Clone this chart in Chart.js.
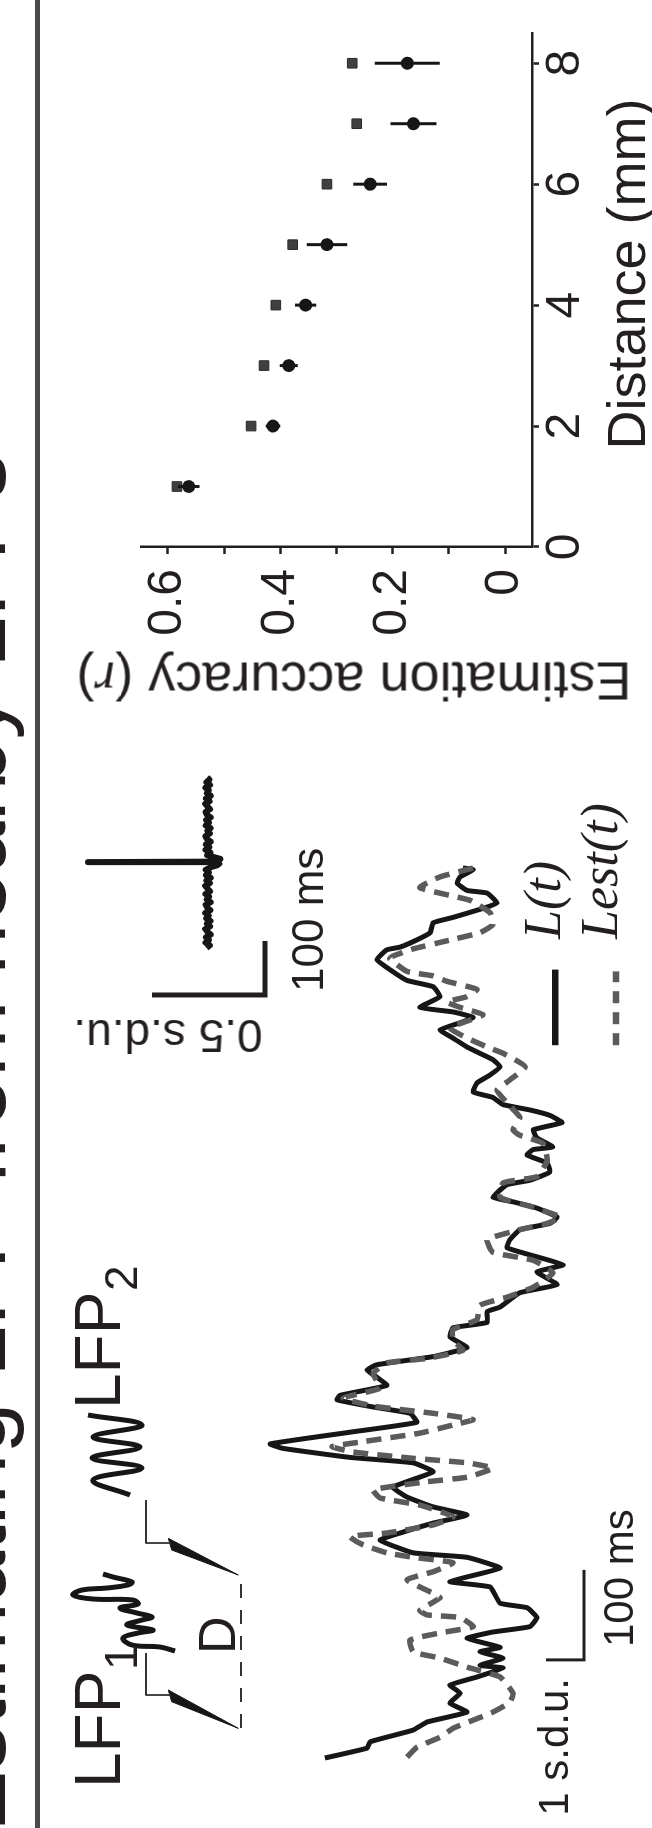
<!DOCTYPE html>
<html><head><meta charset="utf-8">
<script src="https://cdn.jsdelivr.net/npm/chart.js@4.4.1/dist/chart.umd.min.js"></script>
<style>
html,body{margin:0;padding:0;background:#fff;}
body{width:652px;height:1828px;overflow:hidden;position:relative;}
#fig{position:absolute;left:0;top:0;width:1828px;height:652px;transform-origin:0 0;transform:translateY(1828px) rotate(-90deg);overflow:hidden;background:#fff;color:#231f20;font-family:"Liberation Sans",Arial,Helvetica,sans-serif;}
#fig canvas{position:absolute;}
.t{position:absolute;white-space:nowrap;line-height:1;}
#sep{position:absolute;left:0;top:35px;width:1828px;height:5px;background:#4a4a4a;}
</style></head>
<body>
<div id="fig">
<div id="sep"></div>
<canvas id="cTrace" width="1130" height="652" style="left:0;top:0"></canvas>
<canvas id="cSchem" width="600" height="260" style="left:0;top:40px"></canvas>
<canvas id="cInset" width="300" height="260" style="left:780px;top:60px"></canvas>
<canvas id="cAcc" width="728" height="600" style="left:1100px;top:100px"></canvas>
</div>
<script>
// ================= DATA =================
// Recorded LFP L(t): time (ms) and amplitude (s.d.u.)
const lTime = [0,11,18,31,40,51,61,72,81,90,100,103,111,118,123,133,140,146,156,167,172,190,196,211,223,228,242,250,261,270,279,290,301,318,328,334,344,349,362,373,383,390,398,403,414,423,431,437,446,456,468,478,484,496,501,517,526,540,548,559,567,576,587,594,601,611,618,623,637,642,651,661,670,676,679,689,698,706,714,720,726,734,740,750,759,768,776,783,790,800,809,818,823,829,834,846,857,864,876,887,898,901,909,917,928,934,944,950,961,964,972,979,987,989];
const lAmp = [7.24,6.13,6.05,4.92,4.55,3.50,3.95,3.68,3.95,3.24,2.55,3.16,2.55,3.16,2.63,3.50,2.82,1.84,1.66,1.92,2.63,2.89,3.95,2.63,3.50,4.92,5.79,5.26,4.39,3.50,4.39,5.08,5.45,4.39,4.92,6.58,8.34,8.68,6.58,4.82,5.00,5.97,6.92,6.84,5.61,5.87,6.13,5.87,4.39,3.50,3.95,3.87,2.97,2.97,2.63,2.11,1.13,1.66,0.97,1.84,2.45,2.37,2.11,1.32,1.13,1.66,2.29,2.82,2.45,1.84,1.32,1.39,1.92,1.76,1.24,1.66,1.76,1.00,1.32,1.84,2.55,2.82,3.34,3.24,2.89,2.63,2.82,3.16,3.50,3.87,4.21,3.61,3.34,3.87,4.74,4.21,4.39,5.08,5.53,5.87,5.61,5.26,4.82,4.47,4.39,3.87,3.08,2.71,2.97,3.50,3.76,3.68,3.34,3.61];
// Estimated LFP Lest(t)
const estTime = [1,12,23,33,42,51,62,72,90,101,111,118,131,139,146,156,159,164,178,183,198,207,217,223,228,237,246,250,259,268,281,289,298,307,312,322,328,333,340,346,351,361,370,376,383,391,400,411,427,439,444,453,464,476,487,503,512,523,539,553,562,576,587,594,601,612,623,639,646,664,683,692,698,712,728,742,751,768,783,790,800,811,820,826,834,840,846,854,863,869,874,888,891,899,908,917,926,939,953,967,979,990];
const estAmp = [5.08,4.82,4.21,3.87,3.34,2.82,2.37,2.29,2.63,3.50,4.21,4.92,5.00,4.21,3.34,3.68,4.55,4.74,4.21,4.39,5.08,4.39,3.87,4.92,5.61,6.24,6.58,5.61,4.39,3.87,4.74,5.79,5.97,4.55,3.50,2.82,3.50,4.92,6.50,7.05,6.32,4.74,3.87,3.34,4.39,5.97,6.76,5.79,5.97,5.61,4.55,3.61,3.87,3.87,3.24,3.16,2.45,1.76,1.24,1.76,2.82,2.97,2.11,1.39,1.05,1.76,2.63,2.55,1.66,1.39,1.50,2.11,2.29,2.11,2.45,2.71,2.45,1.97,2.55,2.97,3.50,3.95,3.42,3.08,3.68,4.03,3.50,3.24,4.03,4.39,5.08,5.53,5.45,4.92,4.03,3.16,2.82,2.89,3.42,4.74,4.21,3.24];
// Inset: averaged LFP around spike, time (ms) and amplitude (s.d.u.)
const spikeTime = [0,5,10,15,20,25,30,35,40,45,50,55,60,65,70,75,80,85,90,95,100,105,110,115,120,125,130,135,140,145,150,153,156,158,159,160,162,165,168,172,177,182,187,192,197,202,207,212,217,222,227,232,237,242,247,252,257,262,267,272,277,282,287,292,297,302,307,312,316];
const spikeAmp = [0.006,-0.008,0.011,-0.004,0.009,-0.012,0.003,0.012,-0.009,0.005,-0.011,0.008,-0.003,0.012,-0.010,0.004,0.010,-0.012,0.006,-0.005,0.011,-0.009,0.002,0.012,-0.008,0.007,-0.012,0.009,-0.004,0.010,-0.015,-0.040,-0.050,-0.020,0.531,-0.030,-0.045,-0.055,-0.030,0.004,-0.010,0.011,-0.006,0.009,-0.012,0.005,0.012,-0.008,0.003,-0.011,0.010,-0.004,0.008,-0.012,0.006,0.011,-0.009,0.002,0.012,-0.007,0.009,-0.012,0.005,-0.003,0.011,-0.009,0.007,-0.006,0.004];
// Estimation accuracy vs distance
const distances = [1,2,3,4,5,6,7,8];
const accEstimated = [0.563,0.413,0.385,0.355,0.317,0.240,0.163,0.174];
const accError = [0.019,0.013,0.016,0.019,0.036,0.030,0.041,0.058];
const accReference = [0.584,0.452,0.429,0.408,0.378,0.317,0.264,0.272];
const distTicks = [0,2,4,6,8];
const accTicks = [0,0.1,0.2,0.3,0.4,0.5,0.6];
const accTickLabels = ['0','','0.2','','0.4','','0.6'];
// Schematic squiggles (arbitrary units)
const lfp1X = [17.7,18.1,18.3,19.0,19.5,19.8,20.3,20.8,21.1,21.5,22.0,22.4,22.8,22.9,23.3,23.8,24.0,24.3,24.6,25.1,25.4];
const lfp1Y = [12.5,14.0,16.8,17.7,16.2,14.7,17.3,15.8,14.8,16.3,18.0,16.2,16.7,20.7,22.7,21.8,19.3,17.2,16.8,18.7,19.7];
const lfp2X = [33.3,34.8,36.0,37.0,38.1,39.1,40.3,41.3];
const lfp2Y = [17.0,20.7,15.8,20.8,16.0,20.7,15.8,21.2];

// ================= SETUP =================
const FONT = '"Liberation Sans", Arial, Helvetica, sans-serif';
const SERIF = '"Liberation Serif", "Times New Roman", serif';
const INK = '#231f20';
Chart.defaults.font.family = FONT;
Chart.defaults.color = INK;
const fig = document.getElementById('fig');
const zip = (xs, ys) => xs.map((x, i) => ({x, y: ys[i]}));
const hiddenScales = (xmin, xmax, ymin, ymax) => ({
  x: {type: 'linear', display: false, min: xmin, max: xmax},
  y: {type: 'linear', display: false, min: ymin, max: ymax}
});
const base = {responsive: false, animation: false, events: [], devicePixelRatio: 1,
  layout: {padding: 0}, plugins: {legend: {display: false}, tooltip: {enabled: false}}};
const line = (data, o) => Object.assign({data, showLine: true, pointRadius: 0, fill: false,
  borderCapStyle: 'butt', borderJoinStyle: 'round', tension: 0}, o);

// ---- main trace ----
const TR = {w: 1130, h: 652, t0X: 70, pxPerMs: 0.9, a0Y: 600, pxPerSdu: 38};
const trBar = {t: 109, a: 0.42, dt: 100, da: 1};
new Chart(document.getElementById('cTrace'), {
  type: 'scatter',
  data: {datasets: [
    line(zip(estTime, estAmp), {borderColor: '#5b5b5b', borderWidth: 5.5, borderDash: [15, 9], tension: 0.15}),
    line(zip(lTime, lAmp), {borderColor: '#161616', borderWidth: 5, tension: 0.12}),
    line([{x: trBar.t, y: trBar.a + trBar.da}, {x: trBar.t, y: trBar.a}, {x: trBar.t + trBar.dt, y: trBar.a}], {borderColor: INK, borderWidth: 3, borderJoinStyle: 'miter'}),
    line([{x: 792, y: 1.18}, {x: 876, y: 1.18}], {borderColor: '#161616', borderWidth: 6.5}),
    line([{x: 792, y: -0.42}, {x: 874, y: -0.42}], {borderColor: '#5b5b5b', borderWidth: 6.5, borderDash: [12, 9]})
  ]},
  options: Object.assign({}, base, {scales: hiddenScales(
    -TR.t0X / TR.pxPerMs, (TR.w - TR.t0X) / TR.pxPerMs,
    (TR.a0Y - TR.h) / TR.pxPerSdu, TR.a0Y / TR.pxPerSdu)})
});

// ---- schematic (electrodes) ----
new Chart(document.getElementById('cSchem'), {
  type: 'scatter',
  data: {datasets: [
    line(zip(lfp1X, lfp1Y), {borderColor: '#161616', borderWidth: 5, tension: 0.4}),
    line(zip(lfp2X, lfp2Y), {borderColor: '#161616', borderWidth: 5, tension: 0.4}),
    line([{x: 17.5, y: 15.4}, {x: 13.3, y: 15.4}, {x: 13.3, y: 13.0}], {borderColor: '#333', borderWidth: 1.8}),
    line([{x: 32.8, y: 15.4}, {x: 28.5, y: 15.4}, {x: 28.5, y: 13.0}], {borderColor: '#333', borderWidth: 1.8}),
    line([{x: 13.8, y: 13.17}, {x: 12.63, y: 12.83}, {x: 9.97, y: 6.17}, {x: 13.8, y: 13.17}], {borderColor: '#161616', borderWidth: 1, fill: 'shape', backgroundColor: '#161616'}),
    line([{x: 28.97, y: 13.17}, {x: 27.8, y: 12.83}, {x: 25.3, y: 6.17}, {x: 28.97, y: 13.17}], {borderColor: '#161616', borderWidth: 1, fill: 'shape', backgroundColor: '#161616'}),
    line([{x: 10.0, y: 5.9}, {x: 24.6, y: 5.9}], {borderColor: '#333', borderWidth: 1.8, borderDash: [14, 12]})
  ]},
  options: Object.assign({}, base, {scales: hiddenScales(0, 60, 0, 26)})
});

// ---- inset ----
const IN = {w: 300, h: 260, t0X: 100, pxPerMs: 0.54, a0Y: 148, pxPerSdu: 226};
const inBar = {t: -87, a: -0.252, dt: 100, da: 0.5};
new Chart(document.getElementById('cInset'), {
  type: 'scatter',
  data: {datasets: [
    line(zip(spikeTime, spikeAmp), {borderColor: '#161616', borderWidth: 6}),
    line([{x: inBar.t, y: inBar.a + inBar.da}, {x: inBar.t, y: inBar.a}, {x: inBar.t + inBar.dt, y: inBar.a}], {borderColor: INK, borderWidth: 5, borderJoinStyle: 'miter'})
  ]},
  options: Object.assign({}, base, {scales: hiddenScales(
    -IN.t0X / IN.pxPerMs, (IN.w - IN.t0X) / IN.pxPerMs,
    (IN.a0Y - IN.h) / IN.pxPerSdu, IN.a0Y / IN.pxPerSdu)})
});

// ---- accuracy vs distance ----
const errData = [];
distances.forEach((d, i) => {
  errData.push({x: d, y: accEstimated[i] - accError[i]}, {x: d, y: accEstimated[i] + accError[i]}, {x: d, y: null});
});
const axisCommon = {
  grid: {drawOnChartArea: false, drawTicks: true, tickLength: 7, tickWidth: 2.5, tickColor: INK},
  border: {display: true, color: INK, width: 2.5}
};
new Chart(document.getElementById('cAcc'), {
  type: 'scatter',
  data: {datasets: [
    {data: zip(distances, accEstimated), pointStyle: 'circle', pointRadius: 6.5, backgroundColor: '#161616', borderColor: '#161616', borderWidth: 0},
    line(errData, {borderColor: '#161616', borderWidth: 3, spanGaps: false}),
    {data: zip(distances, accReference), pointStyle: 'rect', pointRadius: 6.8, backgroundColor: '#404040', borderColor: '#2a2a2a', borderWidth: 1}
  ]},
  options: Object.assign({}, base, {
    layout: {padding: {top: 41, right: 33, bottom: 0, left: 0}},
    scales: {
      x: Object.assign({type: 'linear', position: 'bottom', min: 0, max: 8.5,
        afterFit: s => { s.height = 168; },
        afterBuildTicks: s => { s.ticks = distTicks.map(v => ({value: v})); },
        ticks: {padding: 3, color: INK, autoSkip: false, maxRotation: 0, font: {family: FONT, size: 48, lineHeight: 1},
          callback: v => String(v)}
      }, axisCommon),
      y: Object.assign({type: 'linear', position: 'left', min: -0.048, max: 0.648,
        afterFit: s => { s.width = 181; },
        afterBuildTicks: s => { s.ticks = accTicks.map(v => ({value: v})); },
        ticks: {padding: 15, color: INK, autoSkip: false, font: {family: FONT, size: 48, lineHeight: 1},
          callback: (v, i) => accTickLabels[i]}
      }, axisCommon)
    }
  })
});

// ================= TEXT =================
function txt(html, o) {
  const d = document.createElement('div');
  d.className = 't';
  d.innerHTML = html;
  d.style.fontSize = o.size + 'px';
  d.style.fontFamily = o.serif ? SERIF : FONT;
  if (o.italic) d.style.fontStyle = 'italic';
  const asc = o.serif ? 0.8375 : 0.8465;
  if (o.rot) {
    d.style.left = o.cx + 'px';
    d.style.top = o.cy + 'px';
    d.style.transform = 'translate(-50%,-50%) rotate(-90deg)';
  } else {
    d.style.left = o.x + 'px';
    d.style.top = (o.base - asc * o.size) + 'px';
    if (o.anchor === 'end') d.style.transform = 'translateX(-100%)';
    if (o.anchor === 'middle') d.style.transform = 'translateX(-50%)';
  }
  fig.appendChild(d);
}
txt('Estimating LFP from nearby LFPs', {x: -4, base: 5, size: 92});
txt('LFP', {x: 40, base: 120, size: 64});
txt('1', {x: 158, base: 137, size: 46});
txt('LFP', {x: 419, base: 120, size: 64});
txt('2', {x: 537, base: 137, size: 46});
txt('D', {x: 174, base: 235, size: 52});
txt('1 s.d.u.', {x: 150, base: 569, size: 42, anchor: 'end'});
txt('100 ms', {x: 181, base: 634, size: 42});
txt('0.5 s.d.u.', {rot: true, cx: 792, cy: 168, size: 46});
txt('100 ms', {x: 836, base: 323, size: 44});
txt('L(t)', {x: 889, base: 561, size: 52, serif: true, italic: true});
txt('Lest(t)', {x: 889, base: 618, size: 52, serif: true, italic: true});
txt('Estimation accuracy (<span style="font-family:' + SERIF.replace(/"/g, "'") + ';font-style:italic">r</span>)', {rot: true, cx: 1147, cy: 354, size: 54});
txt('Distance (mm)', {x: 1554, base: 645, size: 54, anchor: 'middle'});
</script>
</body></html>
